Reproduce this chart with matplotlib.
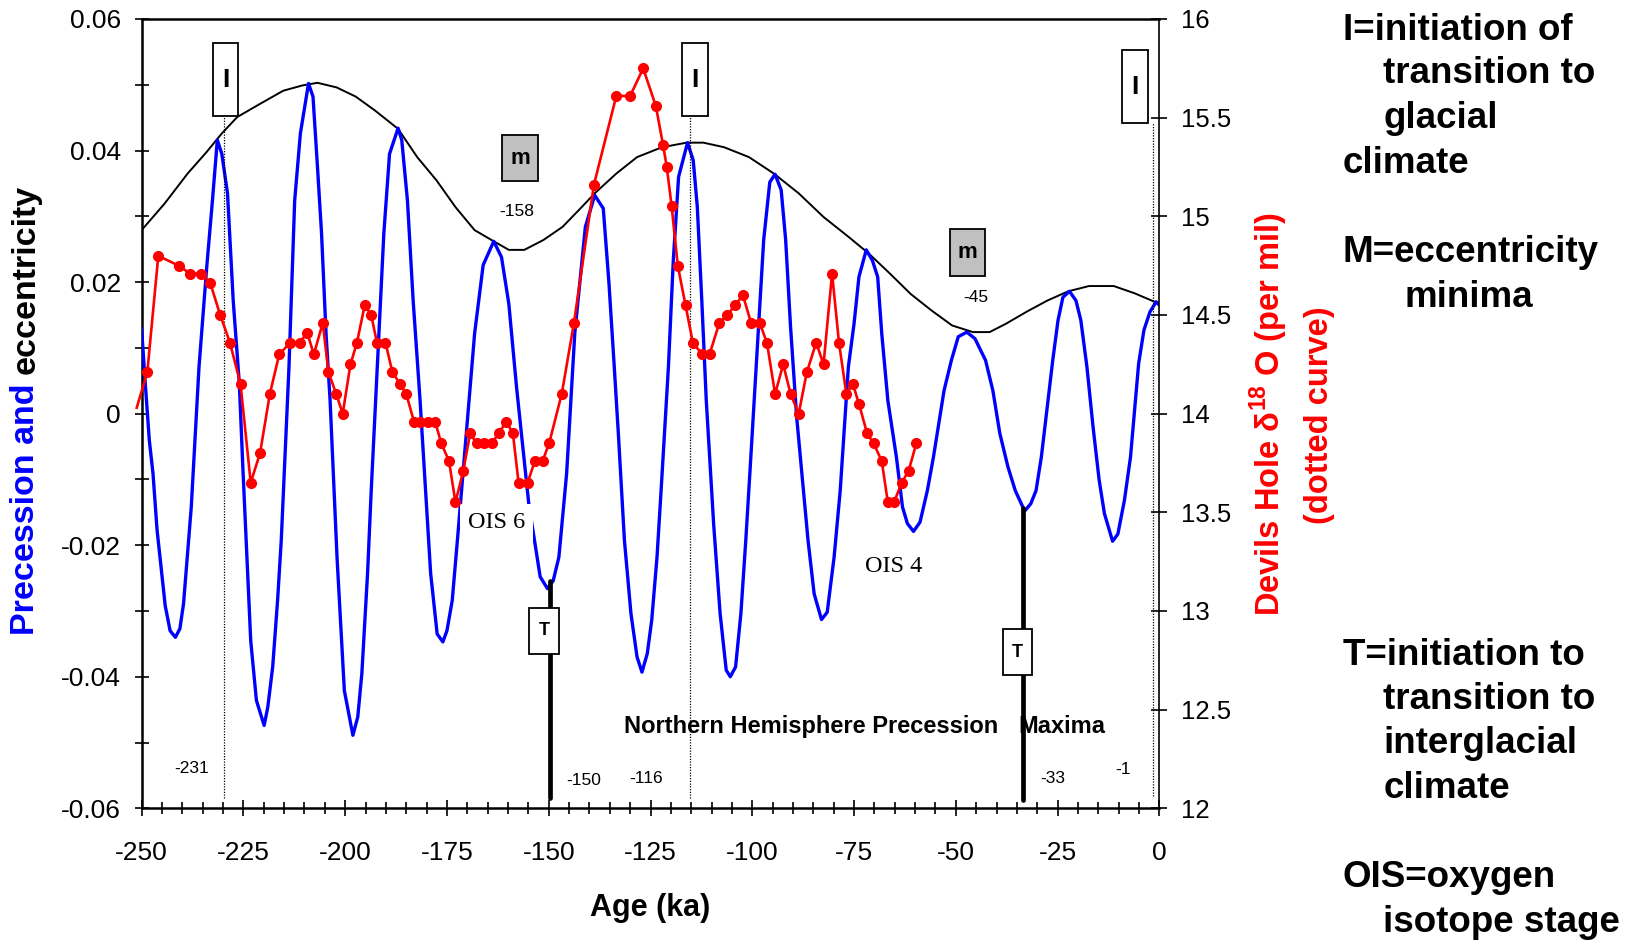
import numpy as np
import matplotlib
matplotlib.use('Agg')
import matplotlib.pyplot as plt
from matplotlib.patches import Rectangle

plt.rcParams['font.family'] = ['Liberation Sans', 'DejaVu Sans']
plt.rcParams['axes.unicode_minus'] = False
plt.rcParams['mathtext.fontset'] = 'custom'
plt.rcParams['mathtext.rm'] = 'Liberation Sans'
plt.rcParams['mathtext.bf'] = 'Liberation Sans:bold'

# precession index (blue)
prec_age = [-250.0, -249.1, -248.1, -247.2, -246.2, -244.2, -243.0, -241.7, -240.6, -239.7,
            -237.8, -235.9, -234.0, -232.6, -231.4, -230.3, -228.9, -227.5, -226.0, -225.1,
            -223.2, -221.8, -219.9, -219.0, -217.8, -216.6, -215.7, -213.8, -212.4, -211.0,
            -209.0, -207.9, -206.8, -205.8, -204.7, -203.7, -202.0, -200.2, -198.1, -196.9,
            -195.9, -194.5, -193.6, -191.7, -190.5, -189.1, -187.0, -186.1, -184.7, -183.3,
            -181.6, -179.0, -177.4, -176.0, -175.0, -173.7, -172.3, -168.2, -166.1, -163.5,
            -161.6, -159.8, -157.9, -154.9, -153.5, -152.1, -150.3, -148.9, -147.5, -145.6,
            -143.6, -141.0, -138.7, -136.6, -135.2, -133.9, -132.9, -131.4, -129.8, -128.3,
            -127.1, -125.8, -124.7, -123.4, -122.4, -120.6, -119.4, -118.1, -115.9, -114.5,
            -113.5, -112.4, -111.3, -109.5, -107.9, -106.4, -105.4, -104.1, -102.8, -101.6,
            -100.5, -98.8, -97.2, -95.7, -94.4, -92.9, -91.8, -90.6, -89.1, -86.3,
            -84.8, -83.0, -81.6, -79.9, -78.4, -76.4, -75.0, -73.8, -72.0, -70.5,
            -69.2, -68.2, -66.7, -64.6, -63.1, -61.9, -60.4, -58.8, -57.0, -55.5,
            -52.9, -51.1, -49.4, -47.3, -45.3, -42.7, -40.9, -39.2, -37.2, -35.4,
            -33.1, -31.6, -30.3, -29.0, -26.2, -24.9, -23.7, -22.1, -20.5, -19.3,
            -17.8, -16.3, -14.8, -13.5, -11.5, -10.2, -8.6, -7.1, -5.1, -3.8,
            -2.3, -0.8, 0.0]
prec = [0.0129, 0.0046, -0.0041, -0.0091, -0.0177, -0.0292, -0.0330, -0.0340, -0.0327, -0.0289,
        -0.0142, 0.0071, 0.0223, 0.0324, 0.0416, 0.0395, 0.0335, 0.0172, 0.0046, -0.0086,
        -0.0345, -0.0436, -0.0474, -0.0446, -0.0385, -0.0284, -0.0193, 0.0071, 0.0324, 0.0426,
        0.0502, 0.0482, 0.0375, 0.0274, 0.0122, 0.0020, -0.0218, -0.0421, -0.0489, -0.0461,
        -0.0395, -0.0243, -0.0117, 0.0122, 0.0274, 0.0395, 0.0434, 0.0416, 0.0324, 0.0172,
        0.0020, -0.0243, -0.0335, -0.0347, -0.0330, -0.0284, -0.0183, 0.0122, 0.0226, 0.0262,
        0.0238, 0.0167, 0.0040, -0.0137, -0.0193, -0.0248, -0.0266, -0.0254, -0.0218, -0.0091,
        0.0122, 0.0284, 0.0332, 0.0312, 0.0198, 0.0071, -0.0030, -0.0193, -0.0304, -0.0370,
        -0.0393, -0.0365, -0.0314, -0.0218, -0.0117, 0.0071, 0.0233, 0.0360, 0.0412, 0.0385,
        0.0314, 0.0172, 0.0020, -0.0167, -0.0304, -0.0390, -0.0400, -0.0385, -0.0304, -0.0193,
        -0.0081, 0.0096, 0.0264, 0.0352, 0.0364, 0.0340, 0.0264, 0.0132, -0.0005, -0.0193,
        -0.0274, -0.0313, -0.0302, -0.0218, -0.0117, 0.0071, 0.0137, 0.0208, 0.0249, 0.0233,
        0.0208, 0.0122, 0.0020, -0.0066, -0.0142, -0.0167, -0.0179, -0.0165, -0.0117, -0.0066,
        0.0035, 0.0081, 0.0117, 0.0124, 0.0114, 0.0081, 0.0035, -0.0030, -0.0081, -0.0117,
        -0.0148, -0.0137, -0.0117, -0.0066, 0.0081, 0.0142, 0.0177, 0.0186, 0.0172, 0.0142,
        0.0071, -0.0020, -0.0101, -0.0152, -0.0194, -0.0183, -0.0132, -0.0066, 0.0076, 0.0127,
        0.0155, 0.0170, 0.0165]

# eccentricity (black)
ecc_age = [-250.0, -244.4, -238.7, -234.0, -230.3, -226.5, -220.9, -215.2, -210.5, -206.8,
           -202.1, -197.4, -192.7, -187.0, -182.3, -177.6, -172.9, -168.2, -163.5, -159.8,
           -156.0, -151.3, -146.6, -141.9, -138.7, -133.4, -128.3, -122.2, -116.1, -112.0,
           -106.9, -100.8, -94.7, -88.6, -82.5, -76.4, -71.3, -66.2, -61.1, -56.0,
           -50.9, -45.8, -41.7, -37.6, -32.6, -27.5, -22.4, -17.3, -11.2, -6.1, 0.0]
ecc = [0.0279, 0.0319, 0.0365, 0.0398, 0.0426, 0.0451, 0.0471, 0.0491, 0.0499, 0.0503,
       0.0496, 0.0482, 0.0461, 0.0433, 0.0390, 0.0355, 0.0314, 0.0279, 0.0262, 0.0249,
       0.0249, 0.0264, 0.0284, 0.0314, 0.0335, 0.0365, 0.0390, 0.0405, 0.0412, 0.0412,
       0.0405, 0.0390, 0.0365, 0.0335, 0.0299, 0.0269, 0.0243, 0.0213, 0.0182, 0.0157,
       0.0134, 0.0124, 0.0124, 0.0137, 0.0155, 0.0172, 0.0186, 0.0194, 0.0194, 0.0183, 0.0167]

# Devils Hole d18O (red, right axis)
dh_age = [-251.2, -248.6, -245.9, -240.9, -238.1, -235.3, -233.1, -230.7, -228.3, -225.7,
          -223.2, -220.9, -218.5, -216.2, -213.5, -211.2, -209.3, -207.7, -205.5, -204.1,
          -202.2, -200.6, -198.7, -197.1, -195.2, -193.6, -192.2, -190.1, -188.4, -186.5,
          -185.0, -183.1, -181.6, -179.7, -177.9, -176.4, -174.5, -172.9, -171.0, -169.3,
          -167.7, -165.9, -164.0, -162.3, -160.4, -158.8, -157.4, -155.2, -153.4, -151.5,
          -149.9, -146.8, -143.8, -138.9, -133.4, -130.0, -126.8, -123.7, -121.9, -121.0,
          -119.8, -118.3, -116.4, -114.6, -112.3, -110.5, -108.1, -106.1, -104.2, -102.3,
          -100.3, -98.2, -96.4, -94.4, -92.4, -90.6, -88.6, -86.6, -84.3, -82.5,
          -80.4, -78.7, -76.9, -75.3, -73.8, -71.8, -70.2, -68.2, -66.7, -65.2,
          -63.3, -61.6, -59.7]
dh = [14.03, 14.21, 14.80, 14.75, 14.71, 14.71, 14.66, 14.50, 14.36, 14.15,
      13.65, 13.80, 14.10, 14.30, 14.36, 14.36, 14.41, 14.30, 14.46, 14.21,
      14.10, 14.00, 14.25, 14.36, 14.55, 14.50, 14.36, 14.36, 14.21, 14.15,
      14.10, 13.96, 13.96, 13.96, 13.96, 13.85, 13.76, 13.55, 13.71, 13.90,
      13.85, 13.85, 13.85, 13.90, 13.96, 13.90, 13.65, 13.65, 13.76, 13.76,
      13.85, 14.10, 14.46, 15.16, 15.61, 15.61, 15.75, 15.56, 15.36, 15.25,
      15.05, 14.75, 14.55, 14.36, 14.30, 14.30, 14.46, 14.50, 14.55, 14.60,
      14.46, 14.46, 14.36, 14.10, 14.25, 14.10, 14.00, 14.21, 14.36, 14.25,
      14.71, 14.36, 14.10, 14.15, 14.05, 13.90, 13.85, 13.76, 13.55, 13.55,
      13.65, 13.71, 13.85]

left_ticks = [-0.06, -0.04, -0.02, 0.0, 0.02, 0.04, 0.06]
left_labels = ['-0.06', '-0.04', '-0.02', '0', '0.02', '0.04', '0.06']
right_ticks = [12, 12.5, 13, 13.5, 14, 14.5, 15, 15.5, 16]
x_ticks = [-250, -225, -200, -175, -150, -125, -100, -75, -50, -25, 0]

# annotation boxes: label, centre age, centre value, width (ka), height
boxes = [('I', -229.4, 0.0508, 6.3, 0.0112, 'white', 19),
         ('I', -114.0, 0.0508, 6.4, 0.0112, 'white', 19),
         ('I', -6.0, 0.0497, 6.3, 0.0111, 'white', 19),
         ('m', -157.0, 0.0388, 8.8, 0.0070, '#c0c0c0', 16),
         ('m', -47.1, 0.0245, 8.7, 0.0071, '#c0c0c0', 16),
         ('T', -151.1, -0.0330, 7.3, 0.0070, 'white', 13),
         ('T', -34.9, -0.0363, 7.2, 0.0070, 'white', 13)]
# dotted "I" lines and thick "T" lines: age, bottom, top
dotted = [(-229.8, -0.0585, 0.0452), (-115.4, -0.0585, 0.0452), (-1.5, -0.0582, 0.0442)]
thick = [(-149.7, -0.0585, -0.0254), (-33.6, -0.0588, -0.0144)]
small_labels = [('-158', -157.9, 0.0307), ('-45', -45.1, 0.0176), ('-231', -237.6, -0.0540),
                ('-150', -141.5, -0.0557), ('-116', -126.0, -0.0554), ('-33', -26.1, -0.0555),
                ('-1', -8.9, -0.0541)]

W, H = 1626, 940
fig = plt.figure(figsize=(W / 100, H / 100), dpi=100)
ax = fig.add_axes([141.6 / W, 1 - 808.3 / H, (1159.4 - 141.6) / W, (808.3 - 19) / H])
ax2 = ax.twinx()

ax.plot(ecc_age, ecc, color='k', lw=1.4, zorder=2)
ax.plot(prec_age, prec, color='#0000ff', lw=2.4, zorder=3)
ax2.plot(dh_age, dh, color='#ff0000', lw=1.9, marker='o', ms=7,
         markevery=list(range(1, len(dh_age))), clip_on=False)

for a, y0, y1 in dotted:
    ax.plot([a, a], [y0, y1], color='k', lw=0.9, ls=(0, (1, 1.2)), zorder=4)
for a, y0, y1 in thick:
    ax.plot([a, a], [y0, y1], color='k', lw=3.4, solid_capstyle='round', zorder=5)
for lab, cx, cy, w, h, fc, fs in boxes:
    ax.add_patch(Rectangle((cx - w / 2, cy - h / 2), w, h, facecolor=fc, edgecolor='k',
                           lw=1.3, zorder=6))
    ax.text(cx, cy, lab, ha='center', va='center', fontsize=fs, fontweight='bold', zorder=7)
for lab, a, v in small_labels:
    ax.text(a, v, lab, ha='center', va='center', fontsize=12.5, zorder=7)

ax.text(-162.8, -0.0166, 'OIS 6', family='Liberation Serif', fontsize=17.5, ha='center',
        va='center', zorder=7, bbox=dict(facecolor='white', edgecolor='none', pad=6))
ax.text(-65.2, -0.0232, 'OIS 4', family='Liberation Serif', fontsize=17.5, ha='center',
        va='center', zorder=7)
ax.text(-131.4, -0.0486, 'Northern Hemisphere Precession', fontsize=17, fontweight='bold',
        ha='left', va='baseline', zorder=4)
ax.text(-34.6, -0.0486, 'Maxima', fontsize=17, fontweight='bold', ha='left', va='baseline',
        zorder=4)

# axes and ticks
ax.set_xlim(-250, 0)
ax.set_ylim(-0.06, 0.06)
ax2.set_ylim(12, 16)
ax.set_xticks(x_ticks)
ax.set_xticklabels([str(t) for t in x_ticks])
ax.set_xticks(np.arange(-250, 1, 5), minor=True)
ax.set_yticks(left_ticks)
ax.set_yticklabels(left_labels)
ax.set_yticks(np.arange(-0.05, 0.06, 0.02), minor=True)
ax2.set_yticks(right_ticks)
ax2.set_yticklabels(['{:g}'.format(t) for t in right_ticks])

ax.tick_params(axis='both', which='both', direction='inout', width=1.2, labelsize=19,
               top=False, right=False)
ax.tick_params(axis='y', which='both', length=10, pad=10)
ax.tick_params(axis='x', which='major', length=11, pad=18)
ax.tick_params(axis='x', which='minor', length=9)
ax2.tick_params(axis='y', direction='inout', length=11, width=1.2, pad=10, labelsize=18.5)

for s in ['left', 'bottom', 'top']:
    ax.spines[s].set_linewidth(1.8)
    ax2.spines[s].set_visible(False)
ax.spines['right'].set_visible(False)
ax2.spines['right'].set_linewidth(1.2)

# axis titles
fig.text(650.5 / W, 1 - 908 / H, 'Age (ka)', fontsize=22, fontweight='bold',
         ha='center', va='center')
t1 = fig.text(26 / W, 1 - 635 / H, 'Precession and', fontsize=24.5, fontweight='bold',
              color='#0000ff', rotation=90, rotation_mode='anchor', ha='left', va='center')
fig.canvas.draw()
bb = t1.get_window_extent()
fig.text(26 / W, (bb.y1 + 10) / H, 'eccentricity', fontsize=24.5, fontweight='bold',
         color='k', rotation=90, rotation_mode='anchor', ha='left', va='center')
fig.text(1269 / W, 1 - 413.5 / H, r'Devils Hole δ$^{\mathbf{18}}$ O (per mil)', fontsize=23.5,
         fontweight='bold', color='#ff0000', rotation=90, ha='center', va='center')
fig.text(1319 / W, 1 - 415 / H, '(dotted curve)', fontsize=23.5, fontweight='bold',
         color='#ff0000', rotation=90, ha='center', va='center')

# key on the right
key = [('I=initiation of', 1342.7, 40), ('transition to', 1383.3, 83),
       ('glacial', 1383.3, 128), ('climate', 1342.7, 173),
       ('M=eccentricity', 1342.7, 262), ('minima', 1404, 307),
       ('T=initiation to', 1342.7, 665), ('transition to', 1383.3, 709),
       ('interglacial', 1383.3, 753), ('climate', 1383.3, 798),
       ('OIS=oxygen', 1342.7, 887), ('isotope stage', 1383.3, 932)]
for txt, x, y in key:
    fig.text(x / W, 1 - y / H, txt, fontsize=26.5, fontweight='bold', ha='left', va='baseline')

fig.savefig('out.png', dpi=100)
